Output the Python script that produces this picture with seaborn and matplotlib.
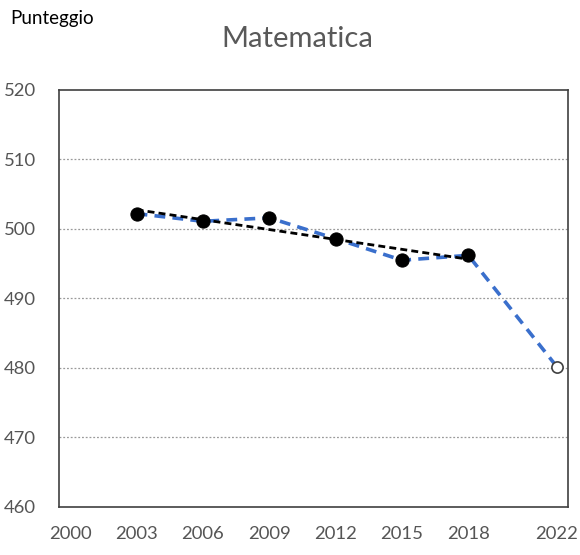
import numpy as np
import pandas as pd
import matplotlib
matplotlib.use("Agg")
import matplotlib.pyplot as plt
import seaborn as sns

# PISA maths scores by survey year
years = [2003, 2006, 2009, 2012, 2015, 2018, 2022]
scores = [502.2, 501.1, 501.6, 498.6, 495.5, 496.2, 480.2]
xticks = [2000, 2003, 2006, 2009, 2012, 2015, 2018, 2022]
yticks = [460, 470, 480, 490, 500, 510, 520]

df = pd.DataFrame({"anno": years, "punteggio": scores})
past = df[df["anno"] <= 2018]
latest = df[df["anno"] == 2022]

# linear trend over 2003-2018
slope, intercept = np.polyfit(past["anno"], past["punteggio"], 1)
trend = pd.DataFrame({"anno": [2003, 2018]})
trend["punteggio"] = intercept + slope * trend["anno"]

sns.set_theme(style="white")
plt.rcParams["font.family"] = ["Lato", "DejaVu Sans"]

fig = plt.figure(figsize=(5.8, 5.55), dpi=100)
ax = fig.add_axes([0.102, 0.0865, 0.877, 0.7515])

for y in yticks[1:-1]:
    ax.axhline(y, color="#9a9a9a", lw=0.9, ls=(0, (1.5, 1.5)), zorder=0)

sns.lineplot(data=df, x="anno", y="punteggio", ax=ax, color="#3a6fcc",
             lw=2.6, dashes=False, zorder=2)
ax.lines[-1].set_linestyle((0, (3, 2)))
sns.lineplot(data=trend, x="anno", y="punteggio", ax=ax, color="black",
             lw=2.0, zorder=3)
ax.lines[-1].set_linestyle((0, (2.5, 1.5)))
sns.scatterplot(data=past, x="anno", y="punteggio", ax=ax, color="black",
                s=90, edgecolor="black", zorder=4)
sns.scatterplot(data=latest, x="anno", y="punteggio", ax=ax, color="white",
                s=65, edgecolor="#404040", linewidth=1.2, zorder=4)

ax.set_xlim(1999.5, 2022.5)
ax.set_ylim(460, 520)
ax.set_xticks(xticks)
ax.set_yticks(yticks)
ax.set_xlabel("")
ax.set_ylabel("")
ax.tick_params(axis="both", length=0, labelsize=13.3, labelcolor="#555555")
ax.tick_params(axis="x", pad=14)
ax.tick_params(axis="y", pad=17)
for sp in ax.spines.values():
    sp.set_color("#404040")
    sp.set_linewidth(1.2)

fig.text(0.512, 0.93, "Matematica", ha="center", va="center",
         fontsize=21, color="#595959")
fig.text(0.017, 0.966, "Punteggio", ha="left", va="center",
         fontsize=13.5, color="black")

fig.savefig("out.png", dpi=100)
